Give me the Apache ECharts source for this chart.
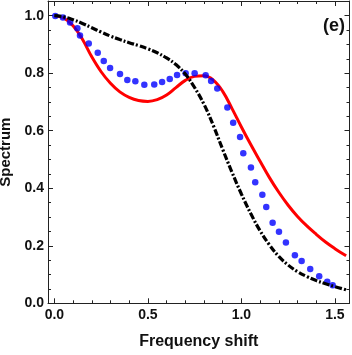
<!DOCTYPE html>
<html>
<head>
<meta charset="utf-8">
<script src="https://cdn.jsdelivr.net/npm/echarts@6/dist/echarts.min.js"></script>
<style>
html,body{margin:0;padding:0;background:#fff;}
#c{width:352px;height:355px;}
</style>
</head>
<body>
<div id="c"></div>
<script>
// Blue dotted data
const blueX = [0.005,0.046,0.084,0.123,0.137,0.184,0.232,0.264,0.298,0.351,0.390,0.433,0.481,0.534,0.576,0.617,0.656,0.702,0.750,0.809,0.838,0.871,0.925,0.956,0.993,1.010,1.051,1.074,1.112,1.133,1.167,1.201,1.238,1.286,1.322,1.368,1.416,1.459,1.488];
const blueY = [0.999,0.994,0.976,0.956,0.931,0.903,0.871,0.842,0.818,0.797,0.776,0.772,0.760,0.761,0.769,0.780,0.794,0.800,0.800,0.793,0.773,0.747,0.681,0.628,0.578,0.522,0.472,0.421,0.377,0.335,0.280,0.249,0.211,0.167,0.147,0.119,0.094,0.075,0.063];
// Red solid curve
const redX = [0,0.05,0.1,0.15,0.2,0.25,0.3,0.35,0.4,0.45,0.5,0.55,0.6,0.65,0.7,0.75,0.8,0.85,0.9,0.95,1.0,1.05,1.1,1.15,1.2,1.25,1.3,1.35,1.4,1.45,1.5,1.56];
const redY = [1.0,0.992,0.965,0.918,0.857,0.805,0.765,0.735,0.716,0.705,0.702,0.708,0.724,0.750,0.775,0.789,0.791,0.776,0.737,0.677,0.613,0.552,0.494,0.437,0.386,0.341,0.302,0.269,0.240,0.213,0.190,0.165];
// Black dash-dot curve
const blackX = [0,0.05,0.1,0.15,0.2,0.25,0.3,0.35,0.4,0.45,0.5,0.55,0.6,0.65,0.7,0.75,0.8,0.85,0.9,0.95,1.0,1.05,1.1,1.15,1.2,1.25,1.3,1.35,1.4,1.45,1.5,1.56];
const blackY = [1.0,0.996,0.986,0.973,0.958,0.943,0.929,0.917,0.906,0.896,0.885,0.871,0.853,0.830,0.797,0.750,0.692,0.618,0.535,0.455,0.380,0.312,0.252,0.203,0.163,0.133,0.110,0.093,0.079,0.068,0.058,0.047];
// Tick labels
const xTickLabels = [0.0,0.5,1.0,1.5];
const yTickLabels = [0.0,0.2,0.4,0.6,0.8,1.0];

const zip = (a,b) => a.map((v,i)=>[v,b[i]]);
const FONT = '"Liberation Sans", Arial, sans-serif';
const AX = '#222';
const fmt = (list) => (v) => {
  for (const t of list) if (Math.abs(v - t) < 1e-6) return t.toFixed(1);
  return '';
};
const XMIN = -0.034, XMAX = 1.578, YMIN = 0, YMAX = 1.051;

function xAx(pos, showLab) {
  return {
    type:'value', position:pos, min:XMIN, max:XMAX, splitNumber:3,
    axisLine:{show:true, onZero:false, lineStyle:{color:AX, width:1}},
    axisTick:{show:true, inside:true, length:5, lineStyle:{color:AX, width:1}},
    minorTick:{show:true, splitNumber:5, length:3, lineStyle:{color:AX, width:1}},
    splitLine:{show:false},
    axisLabel:{show:showLab, formatter:fmt(xTickLabels), margin:5, color:'#111', fontFamily:FONT, fontWeight:'bold', fontSize:14, showMinLabel:true, showMaxLabel:true, hideOverlap:false},
    name: showLab ? 'Frequency shift' : '', nameLocation:'middle', nameGap:30,
    nameTextStyle:{color:'#111', fontFamily:FONT, fontWeight:'bold', fontSize:16}
  };
}
function yAx(pos, showLab) {
  return {
    type:'value', position:pos, min:YMIN, max:YMAX, splitNumber:5,
    axisLine:{show:true, onZero:false, lineStyle:{color:AX, width:1}},
    axisTick:{show:true, inside:true, length:5, lineStyle:{color:AX, width:1}},
    minorTick:{show:true, splitNumber:4, length:3, lineStyle:{color:AX, width:1}},
    splitLine:{show:false},
    axisLabel:{show:showLab, formatter:fmt(yTickLabels), margin:4, color:'#111', fontFamily:FONT, fontWeight:'bold', fontSize:14, showMinLabel:true, showMaxLabel:true, hideOverlap:false},
    name: showLab ? 'Spectrum' : '', nameLocation:'middle', nameGap:33,
    nameTextStyle:{color:'#111', fontFamily:FONT, fontWeight:'bold', fontSize:15}
  };
}

const chart = echarts.init(document.getElementById('c'), null, {renderer:'canvas'});
chart.setOption({
  backgroundColor:'#fff',
  animation:false,
  title:{text:'(e)', left:318, top:12, textStyle:{color:'#111', fontFamily:FONT, fontWeight:'bold', fontSize:18}},
  grid:{left:48, right:2.5, top:1, bottom:51.7, containLabel:false, outerBoundsMode:'none'},
  xAxis:[xAx('bottom', true), xAx('top', false)],
  yAxis:[yAx('left', true), yAx('right', false)],
  series:[
    {type:'line', name:'red', data:zip(redX, redY), smooth:0.4, showSymbol:false, symbol:'none',
     lineStyle:{color:'#ff0000', width:3}, z:2},
    {type:'scatter', name:'blue', data:zip(blueX, blueY), symbol:'circle', symbolSize:6.5,
     itemStyle:{color:'#0000ff'}, z:3},
    {type:'line', name:'black', data:zip(blackX, blackY), smooth:0.4, showSymbol:false, symbol:'none',
     lineStyle:{color:'#000', width:3.2, type:[7,2,2,2]}, z:4}
  ]
});
</script>
</body>
</html>
